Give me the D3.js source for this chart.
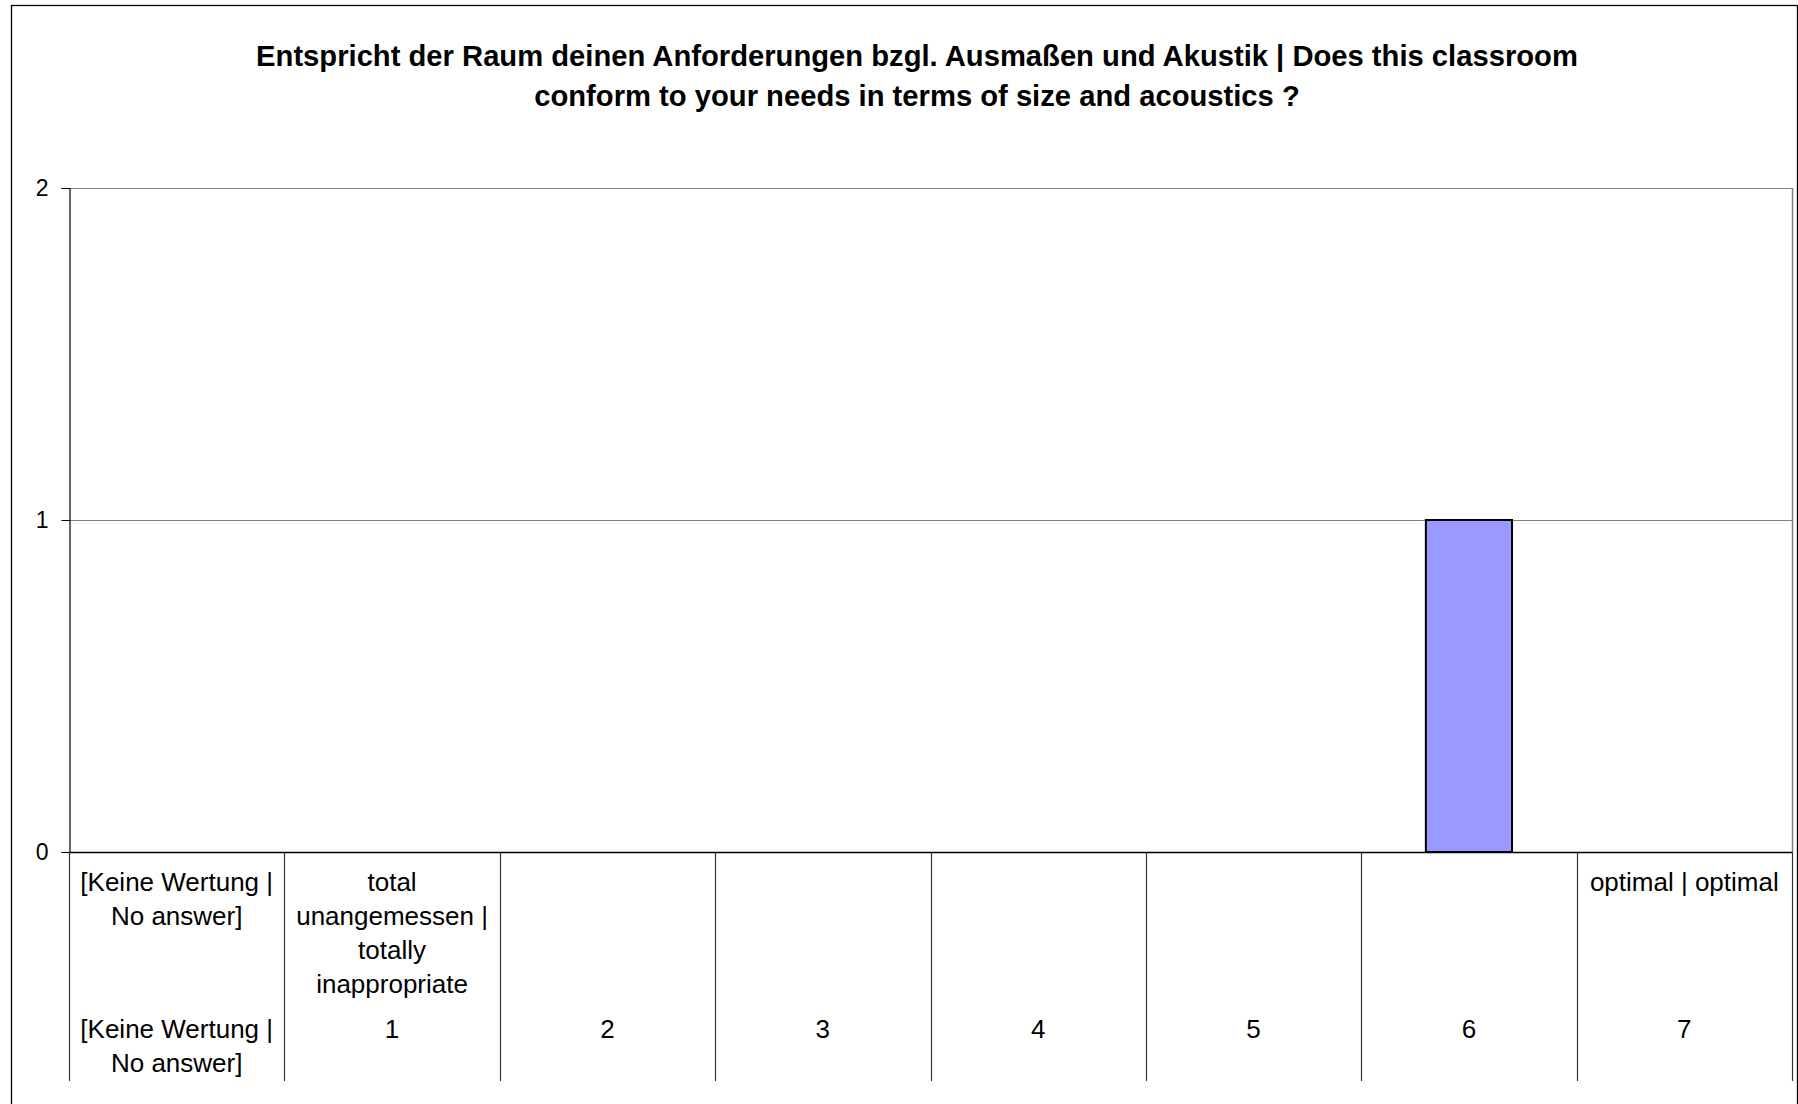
<!DOCTYPE html>
<html>
<head>
<meta charset="utf-8">
<script src="https://cdn.jsdelivr.net/npm/d3@7"></script>
<style>
  html, body { margin: 0; padding: 0; background: #fff; }
  svg { display: block; font-family: "Liberation Sans", Arial, sans-serif; }
</style>
</head>
<body>
<div id="chart"></div>
<script>
// data
const titleLines = [
  'Entspricht der Raum deinen Anforderungen bzgl. Ausmaßen und Akustik | Does this classroom',
  'conform to your needs in terms of size and acoustics ?'
];
const categories = ['na', '1', '2', '3', '4', '5', '6', '7'];
const upperLabels = [
  ['[Keine Wertung |', 'No answer]'],
  ['total', 'unangemessen |', 'totally', 'inappropriate'],
  [], [], [], [], [],
  ['optimal | optimal']
];
const lowerLabels = [
  ['[Keine Wertung |', 'No answer]'],
  ['1'], ['2'], ['3'], ['4'], ['5'], ['6'], ['7']
];
const counts = [0, 0, 0, 0, 0, 0, 1, 0];
const yTicks = [0, 1, 2];

const W = 1798, H = 1104;
const M = { t: 188, r: 1792, b: 852, l: 69 };
const LINE = 34;

const svg = d3.select('#chart').append('svg')
  .attr('width', W)
  .attr('height', H);

svg.append('rect')
  .attr('width', W).attr('height', H)
  .attr('fill', '#fff');

// outer chart frame
svg.append('rect')
  .attr('x', 11.5).attr('y', 5.5)
  .attr('width', W - 12).attr('height', H + 20)
  .attr('fill', 'none')
  .attr('stroke', '#000')
  .attr('stroke-width', 1.3);

// title
svg.append('text')
  .attr('x', 917)
  .attr('y', 56)
  .attr('text-anchor', 'middle')
  .style('font-weight', 'bold')
  .style('font-size', '29.2px')
  .selectAll('tspan')
  .data(titleLines)
  .enter().append('tspan')
  .attr('x', 917)
  .attr('dy', (d, i) => i === 0 ? '0.35em' : 40)
  .text(d => d);

const x = d3.scaleBand()
  .domain(categories)
  .range([M.l, M.r])
  .paddingInner(0)
  .paddingOuter(0);

const y = d3.scaleLinear()
  .domain([0, 2])
  .range([M.b, M.t]);

// gridlines
svg.append('g')
  .selectAll('line')
  .data(yTicks.filter(d => d > 0))
  .enter().append('line')
  .attr('x1', M.l).attr('x2', M.r)
  .attr('y1', d => Math.round(y(d)) + 0.5)
  .attr('y2', d => Math.round(y(d)) + 0.5)
  .attr('stroke', '#808080')
  .attr('stroke-width', 1.2);

// plot right edge
svg.append('line')
  .attr('x1', M.r + 0.5).attr('x2', M.r + 0.5)
  .attr('y1', M.t).attr('y2', M.b)
  .attr('stroke', '#808080')
  .attr('stroke-width', 1.5);

// bars
const bw = x.bandwidth() * 0.4;
svg.append('g')
  .selectAll('rect')
  .data(categories.map((c, i) => ({ c, v: counts[i] })).filter(d => d.v > 0))
  .enter().append('rect')
  .attr('x', d => x(d.c) + (x.bandwidth() - bw) / 2)
  .attr('y', d => y(d.v))
  .attr('width', bw)
  .attr('height', d => y(0) - y(d.v))
  .attr('fill', '#9999FF')
  .attr('stroke', '#000')
  .attr('stroke-width', 2);

// y axis
const yAxis = svg.append('g')
  .attr('transform', `translate(${M.l + 0.5},0)`)
  .call(d3.axisLeft(y).tickValues(yTicks).tickFormat(d3.format('d')).tickSize(8).tickPadding(13));
yAxis.select('.domain').attr('stroke', '#000').attr('stroke-width', 1.2);
yAxis.selectAll('.tick line').attr('stroke', '#000');
yAxis.selectAll('.tick text')
  .style('font-size', '23px')
  .style('font-family', '"Liberation Sans", Arial, sans-serif')
  .attr('fill', '#000');

// x axis line
svg.append('line')
  .attr('x1', M.l).attr('x2', M.r + 1)
  .attr('y1', M.b + 0.5).attr('y2', M.b + 0.5)
  .attr('stroke', '#000')
  .attr('stroke-width', 1.5);

// category separators (multi-level axis)
const bounds = categories.map(c => x(c)).concat([M.r]);
svg.append('g')
  .selectAll('line')
  .data(bounds)
  .enter().append('line')
  .attr('x1', d => Math.round(d) + 0.5)
  .attr('x2', d => Math.round(d) + 0.5)
  .attr('y1', M.b)
  .attr('y2', 1081)
  .attr('stroke', '#333')
  .attr('stroke-width', 1.2);

function labelRow(rows, top) {
  svg.append('g')
    .selectAll('text')
    .data(categories.map((c, i) => ({ c, lines: rows[i] })))
    .enter().append('text')
    .attr('text-anchor', 'middle')
    .style('font-size', '26px')
    .attr('fill', '#000')
    .each(function(d) {
      const t = d3.select(this);
      d.lines.forEach((ln, j) => {
        t.append('tspan')
          .attr('x', x(d.c) + x.bandwidth() / 2)
          .attr('y', top + j * LINE)
          .attr('dy', '0.35em')
          .text(ln);
      });
    });
}
labelRow(upperLabels, 882);
labelRow(lowerLabels, 1029);
</script>
</body>
</html>
